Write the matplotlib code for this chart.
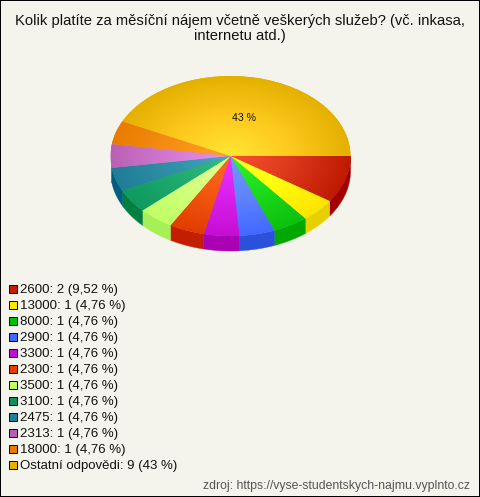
import numpy as np
import matplotlib
matplotlib.use("Agg")
import matplotlib.pyplot as plt
from matplotlib.colors import to_rgb
from matplotlib.patches import Rectangle

plt.rcParams['font.family'] = ['Liberation Sans', 'DejaVu Sans']

title = "Kolik platíte za měsíční nájem včetně veškerých služeb? (vč. inkasa,\ninternetu atd.)"
categories = ["2600", "13000", "8000", "2900", "3300", "2300", "3500", "3100", "2475", "2313", "18000", "Ostatní odpovědi"]
counts = [2, 1, 1, 1, 1, 1, 1, 1, 1, 1, 1, 9]
percent_labels = ["9,52 %", "4,76 %", "4,76 %", "4,76 %", "4,76 %", "4,76 %", "4,76 %", "4,76 %", "4,76 %", "4,76 %", "4,76 %", "43 %"]
source = "zdroj: https://vyse-studentskych-najmu.vyplnto.cz"

inner_colors = ["#f8502f", "#ffff26", "#33f533", "#7399ff", "#ee33ff", "#ff6a26", "#e6ff99", "#33c080", "#45aac0", "#ea94ec", "#ffa626", "#ffe733"]
mid_colors = ["#e23c20", "#ffff10", "#1ede1e", "#6288ff", "#dc22ee", "#f55a12", "#d6ff80", "#22ae70", "#3294aa", "#d67cd6", "#f89018", "#ffcc20"]
edge_colors = ["#bd1a00", "#ffe400", "#0cc00c", "#4268ff", "#c40ed4", "#e23c00", "#c0ff66", "#0e9a60", "#1f7d96", "#ba60b4", "#e87c00", "#e4b000"]
side_colors = ["#a20000", "#e6d000", "#00a800", "#2a50dc", "#aa00b4", "#c41e00", "#a4f056", "#008040", "#005f80", "#a04ca8", "#c46000", "#c09000"]
legend_colors = ["#c02000", "#ffe800", "#00c000", "#4068ff", "#c010d0", "#e24000", "#c0ff66", "#109060", "#207f96", "#b860b0", "#e87800", "#e6b000"]

BG = "#f5f4ec"
W, H = 480, 497
fig = plt.figure(figsize=(W / 100, H / 100), dpi=100, facecolor=BG, edgecolor="black", linewidth=1.44)

# pie area: unit circle squashed to an ellipse
cx, cy, rx, ry, depth = 230.5, 156, 120, 80, 15 / 80
ax = fig.add_axes([(cx - rx) / W, 1 - (cy + ry + depth * 80 + 4) / H, 2 * rx / W, (2 * ry + depth * 80 + 4) / H])
ax.set_facecolor("none")

wedges, _ = ax.pie(counts, startangle=0, counterclock=False, radius=1, colors=edge_colors,
                   wedgeprops=dict(linewidth=0, zorder=2))
ax.set_aspect("auto")
ax.axis("off")

# extruded rim, lower half only
fractions = np.cumsum([0] + counts) / sum(counts)
for i in range(len(counts)):
    a0, a1 = -360 * fractions[i], -360 * fractions[i + 1]
    lo, hi = max(a1, -180), min(a0, 0)
    if hi <= lo:
        continue
    t = np.radians(np.linspace(lo, hi, 40))
    x = np.r_[np.cos(t), np.cos(t)[::-1]]
    y = np.r_[np.sin(t), np.sin(t)[::-1] - depth]
    ax.fill(x, y, color=side_colors[i], lw=0.3, zorder=1)

# radial shading on the top face
g = np.linspace(-1, 1, 500)
gx, gy = np.meshgrid(g, g)
rad = np.clip(np.hypot(gx, gy), 0, 1)[..., None]
for w, c0, cm, c1 in zip(wedges, inner_colors, mid_colors, edge_colors):
    p0, pm, p1 = (np.array(to_rgb(c)) for c in (c0, cm, c1))
    u = np.clip(rad / 0.45, 0, 1)
    v = np.clip((rad - 0.45) / 0.55, 0, 1)
    img = np.where(rad < 0.45, p0 * (1 - u) + pm * u, pm * (1 - v) + p1 * v)
    im = ax.imshow(img, extent=(-1, 1, -1, 1), origin="lower", aspect="auto", zorder=3, interpolation="bilinear")
    im.set_clip_path(w)
ax.set_xlim(-1, 1)
ax.set_ylim(-1 - depth - 0.05, 1)

# percentage label on the largest slice
mid = np.radians(-180 * (fractions[-2] + fractions[-1]))
ax.text(0.49 * np.cos(mid), 0.49 * np.sin(mid), percent_labels[-1], ha="center", va="center",
        fontsize=7.6, color="#111111", zorder=5)

fig.text(0.5, 1 - 14.5 / H, title, ha="center", va="top", fontsize=10.6, color="#111111", linespacing=1.05)

# legend
for i, (cat, n, pct, col) in enumerate(zip(categories, counts, percent_labels, legend_colors)):
    y = 289 + 16 * i
    fig.add_artist(Rectangle((9 / W, 1 - (y + 3.5) / H), 7.5 / W, 7.5 / H, transform=fig.transFigure,
                             facecolor=col, edgecolor="black", linewidth=0.7))
    fig.text(20 / W, 1 - y / H, f"{cat}: {n} ({pct})", ha="left", va="center_baseline", fontsize=9.55, color="#111111")

fig.text(470 / W, 1 - 484 / H, source, ha="right", va="center_baseline", fontsize=8.8, color="#555555")

fig.savefig("out.png", dpi=100, facecolor=fig.get_facecolor(), edgecolor="black")
